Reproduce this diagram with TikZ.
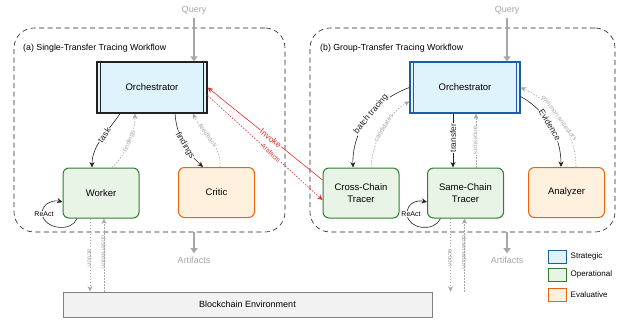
\documentclass[tikz,border=0pt]{standalone}
\usepackage{fontspec}
\setmainfont{Liberation Sans}
\usetikzlibrary{arrows.meta,positioning}

\definecolor{stratline}{HTML}{1F5E9E}
\definecolor{stratfill}{HTML}{DFF3FC}
\definecolor{operline}{HTML}{2E7D32}
\definecolor{operfill}{HTML}{E7F4E6}
\definecolor{evalline}{HTML}{E8650E}
\definecolor{evalfill}{HTML}{FFF1DE}
\definecolor{softgray}{HTML}{A6A6A6}
\definecolor{invred}{HTML}{E0302A}
\definecolor{inkdark}{HTML}{222222}

\begin{document}
\begin{tikzpicture}[x=1pt,y=-1pt,>={Stealth[length=5.5pt,width=5pt]},
    panel/.style={draw=inkdark,dashed,dash pattern=on 5pt off 3.5pt,line width=0.6pt,rounded corners=20pt},
    orch/.style={draw,line width=1.2pt,fill=stratfill,minimum width=110pt,minimum height=51pt,font=\fontsize{9.5}{11}\selectfont},
    agent/.style={draw=operline,line width=1pt,fill=operfill,rounded corners=6pt,minimum width=76pt,minimum height=50pt,align=center,font=\fontsize{9.5}{11.5}\selectfont},
    judge/.style={agent,draw=evalline,fill=evalfill},
    hard/.style={->,inkdark,line width=0.6pt},
    soft/.style={->,softgray,line width=0.6pt,dash pattern=on 1.5pt off 1.5pt},
    big/.style={-{Triangle[length=5pt,width=7pt]},softgray,line width=2pt},
    lab/.style={font=\fontsize{8.5}{9}\selectfont,fill=white,inner sep=0.6pt,sloped},
    slab/.style={font=\fontsize{6.5}{7}\selectfont,fill=white,inner sep=0.4pt,sloped},
    greytext/.style={text=softgray,font=\fontsize{9}{10}\selectfont},
    legbox/.style={draw,line width=1pt,minimum width=18pt,minimum height=13pt,inner sep=0pt},
    legtext/.style={font=\fontsize{8}{9}\selectfont,inner sep=0pt}]
    \useasboundingbox (0,0) rectangle (623,324);

    % panels
    \node[panel,minimum width=271pt,minimum height=204pt] (p1) at (149.5,130) {};
    \node[panel,minimum width=305pt,minimum height=204pt] (p2) at (462.5,130) {};
    \node[anchor=west,font=\fontsize{8.8}{10}\selectfont,inner sep=0pt] (t1) at (23,48) {(a) Single-Transfer Tracing Workflow};
    \node[anchor=west,font=\fontsize{8.8}{10}\selectfont,inner sep=0pt] (t2) at (320,48) {(b) Group-Transfer Tracing Workflow};

    % agents
    \node[orch,draw=inkdark] (o1) at (152,87.5) {Orchestrator};
    \node[agent] (w1) at (101,193) {Worker};
    \node[judge] (k1) at (216.5,192.5) {Critic};
    \node[orch,draw=stratline] (o2) at (465,87.5) {Orchestrator};
    \node[agent] (c1) at (361,193) {Cross-Chain\\Tracer};
    \node[agent] (s1) at (465.5,193) {Same-Chain\\Tracer};
    \node[judge] (a2) at (566.5,192.5) {Analyzer};
    \draw[inkdark,line width=0.8pt] ([xshift=4pt]o1.north west) -- ([xshift=4pt]o1.south west);
    \draw[inkdark,line width=0.8pt] ([xshift=-4pt]o1.north east) -- ([xshift=-4pt]o1.south east);
    \draw[stratline,line width=0.8pt] ([xshift=4pt]o2.north west) -- ([xshift=4pt]o2.south west);
    \draw[stratline,line width=0.8pt] ([xshift=-4pt]o2.north east) -- ([xshift=-4pt]o2.south east);

    \node[draw=gray,fill=black!5,line width=0.8pt,minimum width=369pt,minimum height=25pt,font=\fontsize{9}{10}\selectfont] (env) at (247.5,304.5) {Blockchain Environment};

    % query and artifacts
    \node[greytext] (q1) at (194,10) {Query};
    \node[greytext] (q2) at (507,10) {Query};
    \node[greytext] (r1) at (194,260) {Artifacts};
    \node[greytext] (r2) at (507,260) {Artifacts};
    \draw[big] (q1.south) -- (q1.south |- o1.north);
    \draw[big] (q2.south) -- (q2.south |- o2.north);
    \draw[big] (p1.south -| r1) -- (r1.north);
    \draw[big] (p2.south -| r2) -- (r2.north);

    % single-transfer workflow
    \draw[hard] ([xshift=-32pt]o1.south) .. controls (108,132) and (92,145) .. ([xshift=-9pt]w1.north)
        node[lab,pos=0.42] {task};
    \draw[soft] ([xshift=11pt]w1.north) .. controls (125,155) and (135,135) .. ([xshift=-17pt]o1.south)
        node[slab,pos=0.55] {findings};
    \draw[hard] ([xshift=23pt]o1.south) .. controls (177,140) and (190,155) .. ([xshift=-13.5pt]k1.north)
        node[lab,pos=0.5] {findings};
    \draw[soft] ([xshift=3.5pt]k1.north) .. controls (222,145) and (200,130) .. ([xshift=41pt]o1.south)
        node[slab,pos=0.55] {feedback};
    \draw[->,invred,line width=0.6pt] ([yshift=13pt]c1.west) -- (o1.east)
        node[lab,pos=0.45] {Invoke};
    \draw[->,invred,line width=0.6pt,dash pattern=on 1.5pt off 1.5pt] ([yshift=-8pt]o1.east) -- ([yshift=-7pt]c1.west)
        node[slab,pos=0.55] {Artifacts};
    \draw[hard] ([xshift=-24pt]w1.south) .. controls (72,232) and (45,230) .. (42,214)
        .. controls (42,202) and (55,200) .. ([yshift=-9pt]w1.west);
    \node[font=\fontsize{7}{8}\selectfont,fill=white,inner sep=0.5pt] (x1) at (44,214) {ReAct};
    \draw[soft] ([xshift=-11pt]w1.south) -- ([xshift=-11pt]w1.south |- env.north)
        node[font=\fontsize{6.5}{7}\selectfont,inner sep=0pt,rotate=-90,pos=0.5,xshift=3pt] {action};
    \draw[soft] ([xshift=3pt]w1.south |- env.north) -- ([xshift=3pt]w1.south)
        node[font=\fontsize{6.5}{7}\selectfont,inner sep=0pt,rotate=-90,pos=0.5,xshift=-3pt] {observation};

    % group-transfer workflow
    \draw[hard] (o2.west) .. controls (375,100) and (352,130) .. ([xshift=-8pt]c1.north)
        node[lab,pos=0.45] {batch tracing};
    \draw[soft] ([xshift=10pt]c1.north) .. controls (372,140) and (390,112) .. ([yshift=-14pt]o2.west)
        node[slab,pos=0.5] {candidates};
    \draw[hard] ([xshift=-12pt]o2.south) -- ([xshift=-12.5pt]s1.north)
        node[font=\fontsize{8.5}{9}\selectfont,fill=white,inner sep=0.6pt,rotate=90,pos=0.45] {transfer};
    \draw[soft] ([xshift=10.5pt]s1.north) -- ([xshift=11pt]o2.south)
        node[font=\fontsize{6.5}{7}\selectfont,fill=white,inner sep=0.4pt,rotate=-90,pos=0.5] {ancestors};
    \draw[hard] ([yshift=-9pt]o2.east) .. controls (545,110) and (561,135) .. ([xshift=-5.5pt]a2.north)
        node[lab,pos=0.5] {Evidence};
    \draw[soft] ([xshift=9.5pt]a2.north) .. controls (576,130) and (550,100) .. (o2.east)
        node[slab,pos=0.5] {common ancestors};
    \draw[hard] ([xshift=-25pt]s1.south) .. controls (435,232) and (408,230) .. (407,214)
        .. controls (407,202) and (418,200) .. ([yshift=-9pt]s1.west);
    \node[font=\fontsize{7}{8}\selectfont,fill=white,inner sep=0.5pt] (x2) at (411,214) {ReAct};
    \draw[soft] ([xshift=-15pt]s1.south) -- ([xshift=-15pt]s1.south |- env.north)
        node[font=\fontsize{6.5}{7}\selectfont,inner sep=0pt,rotate=-90,pos=0.5,xshift=3pt] {action};
    \draw[soft] ([xshift=-1pt]s1.south |- env.north) -- ([xshift=-1pt]s1.south)
        node[font=\fontsize{6.5}{7}\selectfont,inner sep=0pt,rotate=-90,pos=0.5,xshift=-3pt] {observation};

    % legend
    \node[legbox,draw=stratline,fill=stratfill] (l1) at (557,256.5) {};
    \node[legbox,draw=operline,fill=operfill] (l2) at (557,274.5) {};
    \node[legbox,draw=evalline,fill=evalfill] (l3) at (557,294.5) {};
    \node[right=4pt of l1,legtext] {Strategic};
    \node[right=4pt of l2,legtext] {Operational};
    \node[right=4pt of l3,legtext] {Evaluative};
\end{tikzpicture}
\end{document}
